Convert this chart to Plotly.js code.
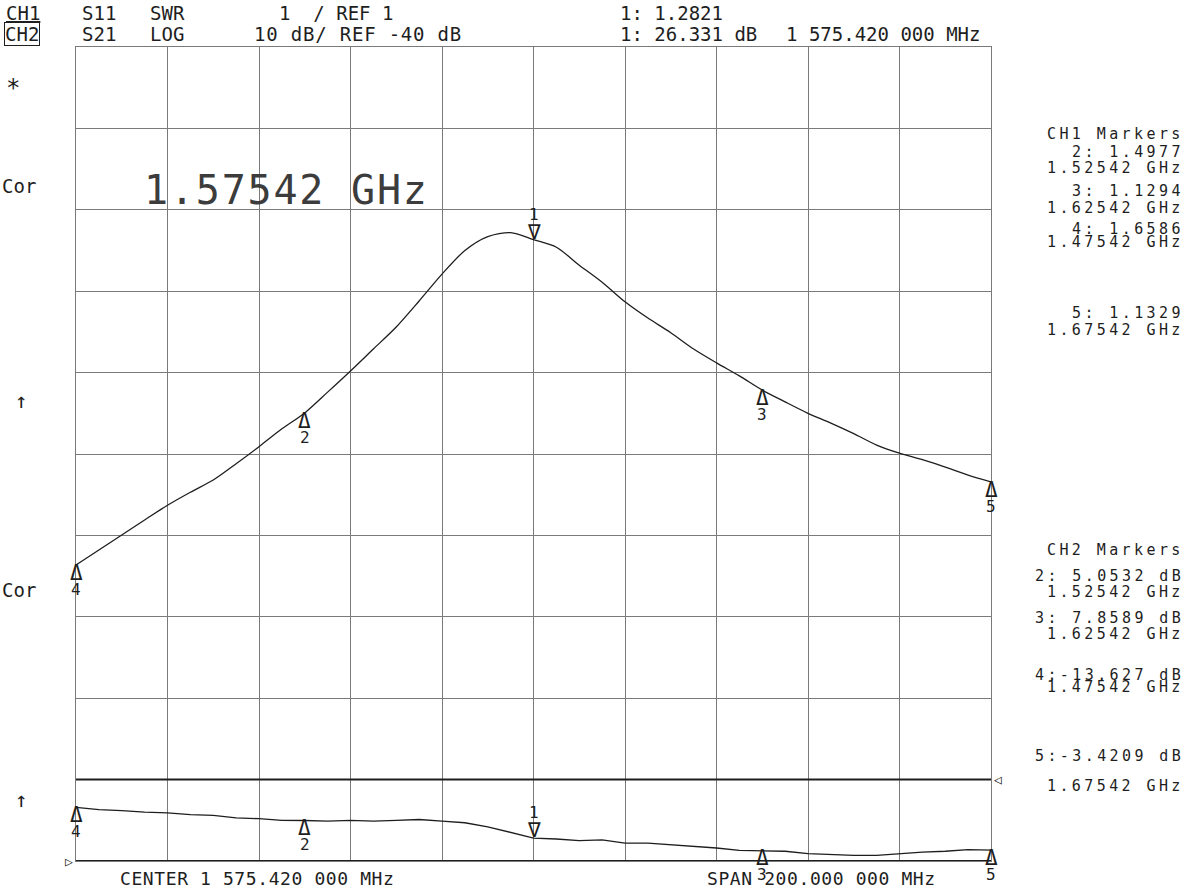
<!DOCTYPE html>
<html><head><meta charset="utf-8">
<script src="https://cdn.plot.ly/plotly-3.0.1.min.js"></script>
<style>body{margin:0;background:#fff}</style>
</head><body><div id="chart" style="width:1188px;height:888px"></div>
<script>
const freqMHz = [1475.42,1480.42,1485.42,1490.42,1495.42,1500.42,1505.42,1510.42,1515.42,1520.42,
  1525.42,1530.42,1535.42,1540.42,1545.42,1550.42,1555.42,1560.42,1565.42,1570.42,
  1575.42,1580.42,1585.42,1590.42,1595.42,1600.42,1605.42,1610.42,1615.42,1620.42,
  1625.42,1630.42,1635.42,1640.42,1645.42,1650.42,1655.42,1660.42,1665.42,1670.42,1675.42];
// CH2 : S21 LOG (dB)
const s21Db = [-13.63,-11.8,-9.95,-8.1,-6.3,-4.7,-3.2,-1.2,0.9,3.1,
  5.05,7.6,10.2,12.9,15.6,18.8,22.1,25.0,26.7,27.2,
  26.33,25.4,23.2,21.1,18.7,16.7,14.9,12.9,11.2,9.6,
  7.86,6.4,5.0,3.8,2.5,1.1,0.1,-0.7,-1.6,-2.6,-3.42];
// CH1 : S11 SWR
const s11Swr = [1.6586,1.63,1.62,1.60,1.59,1.57,1.56,1.53,1.52,1.50,
  1.4977,1.49,1.50,1.49,1.50,1.51,1.49,1.47,1.42,1.35,
  1.2821,1.27,1.25,1.26,1.22,1.22,1.20,1.18,1.16,1.13,
  1.1294,1.12,1.09,1.08,1.07,1.07,1.09,1.11,1.12,1.14,1.1329];

const markerIds = ['1','2','3','4','5'];
const markerFreqMHz = [1575.42,1525.42,1625.42,1475.42,1675.42];
const markerSwr = [1.2821,1.4977,1.1294,1.6586,1.1329];
const markerDb = [26.331,5.0532,7.8589,-13.627,-3.4209];
const markerSwrText = ['1.2821','1.4977','1.1294','1.6586','1.1329'];
const markerDbText = ['26.331','5.0532','7.8589','-13.627','-3.4209'];
const markerGHzText = ['1.57542','1.52542','1.62542','1.47542','1.67542'];

const startMHz = 1475.42, stopMHz = 1675.42;
const ch2Ref = -40, ch2Div = 10;   // LOG 10 dB/ REF -40 dB
const ch1Ref = 1, ch1Div = 1;      // SWR 1 / REF 1

// ---- layout helpers (pixel -> paper) ----
const L = 76, R = 991, T = 47, B = 861;
const px = p => (p - L) / (R - L);
const py = p => (B - p) / (B - T);
const FONT = 'DejaVu Sans Mono, Liberation Mono, monospace';
const INK = '#1e1e1e';
const anns = [];
function txt(text, x, y, o) {
  o = o || {};
  const t = o.ls ? '<span style="letter-spacing:' + o.ls + 'px">' + text + '</span>' : text;
  anns.push(Object.assign({
    xref: 'paper', yref: 'paper', x: px(x), y: py(y), text: t, showarrow: false,
    xanchor: o.xa || 'left', yanchor: 'middle',
    font: {family: FONT, size: o.size || 19, color: o.color || INK}
  }, o.extra || {}));
}

// header
txt('<u>CH1</u>', 4, 13);
txt('S11', 80, 13);
txt('SWR', 148, 13);
txt('1  / REF ' + ch1Ref, 277, 13);
txt('1: ' + markerSwrText[0], 618, 13);
txt('CH2', 4, 34, {extra: {bordercolor: INK, borderwidth: 1, borderpad: 0}});
txt('S21', 80, 34);
txt('LOG', 148, 34);
txt(ch2Div + ' dB/ REF ' + ch2Ref + ' dB', 252, 34, {ls: 0.8});
txt('1: ' + markerDbText[0] + ' dB', 618, 34);
txt('1 575.420 000 MHz', 784, 34);

// left side annotations
txt('*', 4, 88, {size: 24});
txt('Cor', 0, 186);
txt('↑', 13, 401, {size: 21});
txt('Cor', 0, 590);
txt('↑', 13, 800, {size: 21});

// big marker frequency
txt(markerGHzText[0] + ' GHz', 142, 190, {size: 40, color: '#3c3c3c', ls: 1.8});

// bottom
txt('CENTER 1 575.420 000 MHz', 118, 878, {size: 18, ls: 0.6});
txt('SPAN 200.000 000 MHz', 705, 878, {size: 18, ls: 0.6});

// right marker tables
const RX = 1186;
const RS = {xa: 'right', size: 15, ls: 3.4};
txt('CH1 Markers', RX, 134, RS);
const ch1Y = [[152,168],[191,208],[229,242],[313,330]];
const ch2Y = [[576,592],[618,634],[675,687],[756,786]];
for (let k = 1; k < 5; k++) {
  txt(markerIds[k] + ': ' + markerSwrText[k], RX, ch1Y[k-1][0], RS);
  txt(markerGHzText[k] + ' GHz', RX, ch1Y[k-1][1], RS);
}
txt('CH2 Markers', RX, 550, RS);
for (let k = 1; k < 5; k++) {
  const v = markerDbText[k];
  txt(markerIds[k] + ':' + (v[0] === '-' ? '' : ' ') + v + ' dB', RX, ch2Y[k-1][0], RS);
  txt(markerGHzText[k] + ' GHz', RX, ch2Y[k-1][1], RS);
}

// reference pointers
anns.push({xref: 'paper', yref: 'y', x: px(992), y: ch2Ref, text: '◁', showarrow: false,
  xanchor: 'left', yanchor: 'middle', font: {family: FONT, size: 13, color: INK}});
anns.push({xref: 'paper', yref: 'y2', x: px(75), y: ch1Ref, text: '▷', showarrow: false,
  xanchor: 'right', yanchor: 'middle', font: {family: FONT, size: 13, color: INK}});

// trace markers: triangle apex on the trace, number beyond it
function markers(vals, yref) {
  for (let k = 0; k < markerIds.length; k++) {
    const base = {xref: 'x', yref: yref, x: markerFreqMHz[k], y: vals[k], showarrow: false,
      xanchor: 'center', borderpad: 0};
    if (k === 0) {
      anns.push(Object.assign({}, base, {text: '∇', yanchor: 'bottom', yshift: -5,
        font: {family: FONT, size: 21, color: INK}}));
      anns.push(Object.assign({}, base, {text: markerIds[k], yanchor: 'bottom', yshift: 15,
        font: {family: FONT, size: 16, color: INK}}));
    } else {
      anns.push(Object.assign({}, base, {text: 'Δ', yanchor: 'top', yshift: 5,
        font: {family: FONT, size: 21, color: INK}}));
      anns.push(Object.assign({}, base, {text: markerIds[k], yanchor: 'top', yshift: -14,
        font: {family: FONT, size: 16, color: INK}}));
    }
  }
}
markers(markerDb, 'y');
markers(markerSwr, 'y2');

const traces = [
  {x: freqMHz, y: s21Db, type: 'scatter', mode: 'lines', yaxis: 'y',
   line: {color: INK, width: 1.3, shape: 'spline', smoothing: 0.8}, hoverinfo: 'skip', name: 'S21'},
  {x: freqMHz, y: s11Swr, type: 'scatter', mode: 'lines', yaxis: 'y2',
   line: {color: INK, width: 1.3}, hoverinfo: 'skip', name: 'S11'}
];

const grid = '#7a7a7a';
const layout = {
  width: 1188, height: 888,
  margin: {l: L, r: 1188 - R, t: T, b: 888 - B, pad: 0},
  paper_bgcolor: '#ffffff', plot_bgcolor: '#ffffff',
  showlegend: false,
  xaxis: {range: [startMHz, stopMHz], tick0: startMHz, dtick: (stopMHz - startMHz) / 10,
    showticklabels: false, ticks: '', showgrid: true, gridcolor: grid, gridwidth: 1,
    zeroline: false, showline: true, mirror: true, linecolor: grid, linewidth: 1, fixedrange: true},
  yaxis: {range: [ch2Ref - ch2Div, ch2Ref + 9 * ch2Div], tick0: ch2Ref - ch2Div, dtick: ch2Div,
    showticklabels: false, ticks: '', showgrid: true, gridcolor: grid, gridwidth: 1,
    zeroline: false, showline: true, mirror: true, linecolor: grid, linewidth: 1, fixedrange: true},
  yaxis2: {range: [ch1Ref, ch1Ref + 10 * ch1Div], overlaying: 'y', showgrid: false,
    showticklabels: false, ticks: '', zeroline: false, fixedrange: true},
  shapes: [
    {type: 'line', xref: 'paper', yref: 'y', x0: 0, x1: 1, y0: ch2Ref, y1: ch2Ref,
     line: {color: INK, width: 2}},
    {type: 'line', xref: 'paper', yref: 'y2', x0: 0, x1: 1, y0: ch1Ref, y1: ch1Ref,
     line: {color: INK, width: 2}}
  ],
  annotations: anns
};

Plotly.newPlot('chart', traces, layout, {displayModeBar: false, staticPlot: true});
</script></body></html>
